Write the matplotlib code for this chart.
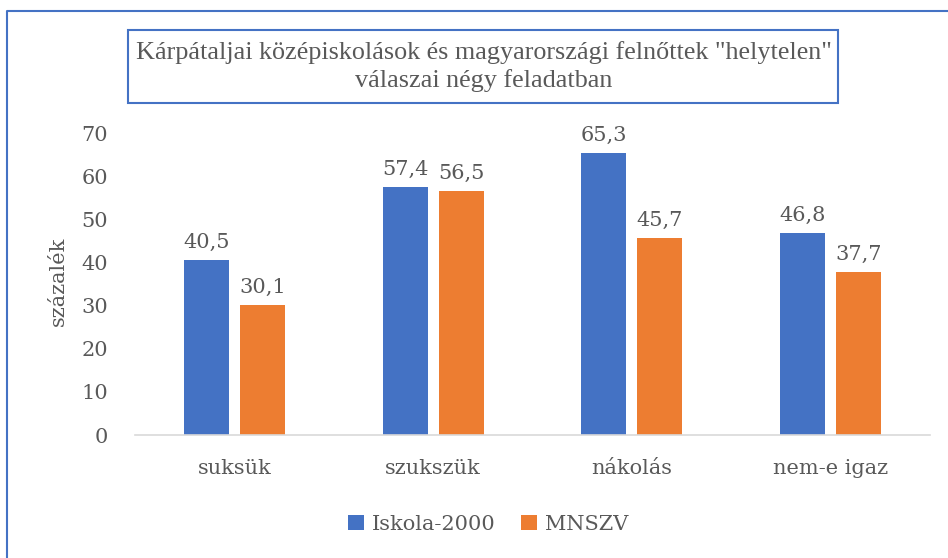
import numpy as np
import matplotlib.pyplot as plt
from matplotlib.patches import Rectangle
from matplotlib.lines import Line2D

categories = ['suksük', 'szukszük', 'nákolás', 'nem-e igaz']
iskola = [40.5, 57.4, 65.3, 46.8]
mnszv = [30.1, 56.5, 45.7, 37.7]
series_names = ['Iskola-2000', 'MNSZV']
yticks = [0, 10, 20, 30, 40, 50, 60, 70]

blue = '#4472C4'
orange = '#ED7D31'
grey = '#595959'
serif = ['DejaVu Serif']
fs = 15

fig = plt.figure(figsize=(9.48, 5.58), dpi=100)
ax = fig.add_axes([0.1424, 0.2204, 0.8386, 0.5412])

x = np.arange(len(categories))
w = 0.226
off = 0.141
b1 = ax.bar(x - off, iskola, w, color=blue, label=series_names[0])
b2 = ax.bar(x + off, mnszv, w, color=orange, label=series_names[1])

for bars, vals in [(b1, iskola), (b2, mnszv)]:
    for r, v in zip(bars, vals):
        ax.annotate(f'{v:.1f}'.replace('.', ','), (r.get_x() + r.get_width() / 2, v),
                    xytext=(0, 6), textcoords='offset points', ha='center', va='bottom',
                    fontsize=fs, color=grey, family=serif, annotation_clip=False)

ax.set_xlim(-0.5, len(categories) - 0.5)
ax.set_ylim(0, 70)
ax.set_yticks(yticks)
ax.set_xticks(x)
ax.set_xticklabels(categories)
for s in ['top', 'right', 'left']:
    ax.spines[s].set_visible(False)
ax.spines['bottom'].set_color('#D9D9D9')
ax.spines['bottom'].set_linewidth(1.2)
ax.tick_params(axis='both', length=0, labelsize=fs, labelcolor=grey)
ax.tick_params(axis='x', pad=17)
ax.tick_params(axis='y', pad=19.5)
for lab in ax.get_xticklabels() + ax.get_yticklabels():
    lab.set_family(serif)

fig.text(58 / 948, 1 - 281 / 558, 'százalék', rotation=90, ha='center', va='center',
         fontsize=fs, color=grey, family=serif)

# title box
fig.patches.append(Rectangle((128 / 948, 1 - 103 / 558), 710 / 948, 73 / 558,
                             transform=fig.transFigure, fill=False, edgecolor=blue, lw=1.5))
fig.text(484 / 948, 1 - 66.5 / 558,
         'Kárpátaljai középiskolások és magyarországi felnőttek "helytelen"\nválaszai négy feladatban',
         ha='center', va='center', fontsize=18.8, color=grey, family=['Liberation Serif'],
         linespacing=1.3)

# outer frame (top and left edges visible)
fig.lines.append(Line2D([7 / 948, 7 / 948, 1], [0, 1 - 11 / 558, 1 - 11 / 558],
                        transform=fig.transFigure, color=blue, lw=1.5))

fig.legend(loc='center', bbox_to_anchor=(0.515, 1 - 524 / 558), ncol=2, frameon=False,
           prop={'family': 'DejaVu Serif', 'size': fs}, labelcolor=grey,
           handlelength=0.75, handleheight=0.75, handletextpad=0.4, columnspacing=1.2)

fig.savefig('out.png', dpi=100)
